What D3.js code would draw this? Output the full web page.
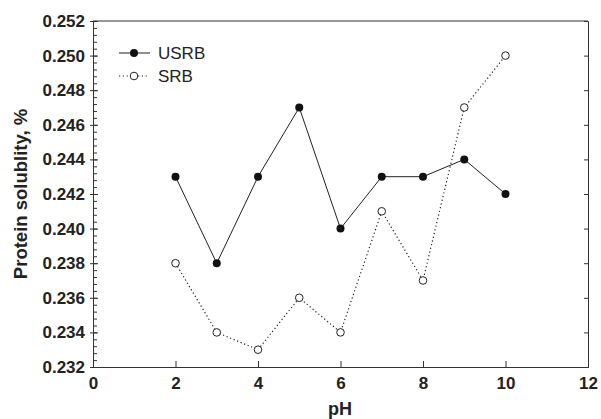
<!DOCTYPE html>
<html>
<head>
<meta charset="utf-8">
<script src="https://cdn.jsdelivr.net/npm/d3@7"></script>
<style>
  body { margin: 0; background: #fff; }
  svg { font-family: "Liberation Sans", Arial, sans-serif; }
  .axis text { font-size: 17px; font-weight: bold; fill: #222; }
  .axis path, .axis line { stroke: #333; }
</style>
</head>
<body>
<div id="canvas"></div>
<script>
// data
var pH = [2, 3, 4, 5, 6, 7, 8, 9, 10];
var usrb = [0.243, 0.238, 0.243, 0.247, 0.240, 0.243, 0.243, 0.244, 0.242];
var srb = [0.238, 0.234, 0.233, 0.236, 0.234, 0.241, 0.237, 0.247, 0.250];
var xTicks = [0, 2, 4, 6, 8, 10, 12];
var yTicks = [0.232, 0.234, 0.236, 0.238, 0.240, 0.242, 0.244, 0.246, 0.248, 0.250, 0.252];
var seriesNames = ['USRB', 'SRB'];

var W = 601, H = 419;
var m = {t: 21, r: 13, b: 52, l: 93};
var w = W - m.l - m.r,
    h = H - m.t - m.b;

var svg = d3.select('#canvas').append('svg')
    .attr('width', W)
    .attr('height', H);

var plot = svg.append('g')
    .attr('transform', 'translate(' + m.l + ',' + m.t + ')');

var scaleX = d3.scaleLinear().domain([0, 12]).range([0, w]);
var scaleY = d3.scaleLinear().domain([0.232, 0.252]).range([h, 0]);

// minor y ticks (inside)
var minor = d3.range(0.2320, 0.2521, 0.0004);
plot.append('g').attr('class', 'axis')
    .call(d3.axisLeft(scaleY).tickValues(minor).tickSize(-4).tickFormat(''))
    .select('.domain').remove();

// y axis
plot.append('g').attr('class', 'axis axis-y')
    .call(d3.axisLeft(scaleY).tickValues(yTicks).tickSize(3).tickPadding(5)
        .tickFormat(d3.format('.3f')))
    .call(function(g) {
        g.selectAll('.tick line').attr('x2', 5).attr('x1', -3);
    });

// x axis with inward ticks
plot.append('g').attr('class', 'axis axis-x')
    .attr('transform', 'translate(0,' + h + ')')
    .call(d3.axisBottom(scaleX).tickValues(xTicks).tickSize(-6).tickPadding(10))
    .call(function(g) {
        g.selectAll('.tick line').attr('y2', -6);
    });

// right axis ticks (inside)
plot.append('g').attr('class', 'axis')
    .attr('transform', 'translate(' + w + ',0)')
    .call(d3.axisRight(scaleY).tickValues(yTicks).tickSize(-4).tickFormat(''));

// top border
plot.append('line')
    .attr('x1', 0).attr('x2', w).attr('y1', 0).attr('y2', 0)
    .attr('stroke', '#333');

var line = d3.line()
    .x(function(d) { return scaleX(d[0]); })
    .y(function(d) { return scaleY(d[1]); });

var usrbPts = pH.map(function(p, i) { return [p, usrb[i]]; });
var srbPts = pH.map(function(p, i) { return [p, srb[i]]; });

plot.append('path').datum(usrbPts)
    .attr('d', line)
    .attr('fill', 'none')
    .attr('stroke', '#222')
    .attr('stroke-width', 1);

plot.append('path').datum(srbPts)
    .attr('d', line)
    .attr('fill', 'none')
    .attr('stroke', '#222')
    .attr('stroke-width', 1.2)
    .attr('stroke-dasharray', '1.2,2.6');

plot.selectAll('.dot-usrb').data(usrbPts).enter()
    .append('circle')
    .attr('cx', function(d) { return scaleX(d[0]); })
    .attr('cy', function(d) { return scaleY(d[1]); })
    .attr('r', 4)
    .attr('fill', '#111');

plot.selectAll('.dot-srb').data(srbPts).enter()
    .append('circle')
    .attr('cx', function(d) { return scaleX(d[0]); })
    .attr('cy', function(d) { return scaleY(d[1]); })
    .attr('r', 3.8)
    .attr('fill', '#fff')
    .attr('stroke', '#222')
    .attr('stroke-width', 1);

// legend
var legend = svg.append('g').attr('transform', 'translate(119,53)');
legend.append('line').attr('x1', 0).attr('x2', 31).attr('y1', 0).attr('y2', 0)
    .attr('stroke', '#222');
legend.append('circle').attr('cx', 15).attr('cy', 0).attr('r', 4).attr('fill', '#111');
legend.append('text').attr('x', 39).attr('y', 6).text(seriesNames[0])
    .attr('font-size', '17px').attr('fill', '#222');

legend.append('line').attr('x1', 0).attr('x2', 30).attr('y1', 23).attr('y2', 23)
    .attr('stroke', '#222').attr('stroke-width', 1.2).attr('stroke-dasharray', '1.2,2.6');
legend.append('circle').attr('cx', 15).attr('cy', 23).attr('r', 3.8)
    .attr('fill', '#fff').attr('stroke', '#222');
legend.append('text').attr('x', 39).attr('y', 29).text(seriesNames[1])
    .attr('font-size', '17px').attr('fill', '#222');

// axis titles
svg.append('text')
    .attr('x', 340).attr('y', 415)
    .attr('text-anchor', 'middle')
    .attr('font-size', '18px').attr('font-weight', 'bold').attr('fill', '#222')
    .text('pH');

svg.append('text')
    .attr('transform', 'translate(27,194) rotate(-90)')
    .attr('text-anchor', 'middle')
    .attr('font-size', '18.5px').attr('font-weight', 'bold').attr('fill', '#222')
    .text('Protein solublity, %');
</script>
</body>
</html>
